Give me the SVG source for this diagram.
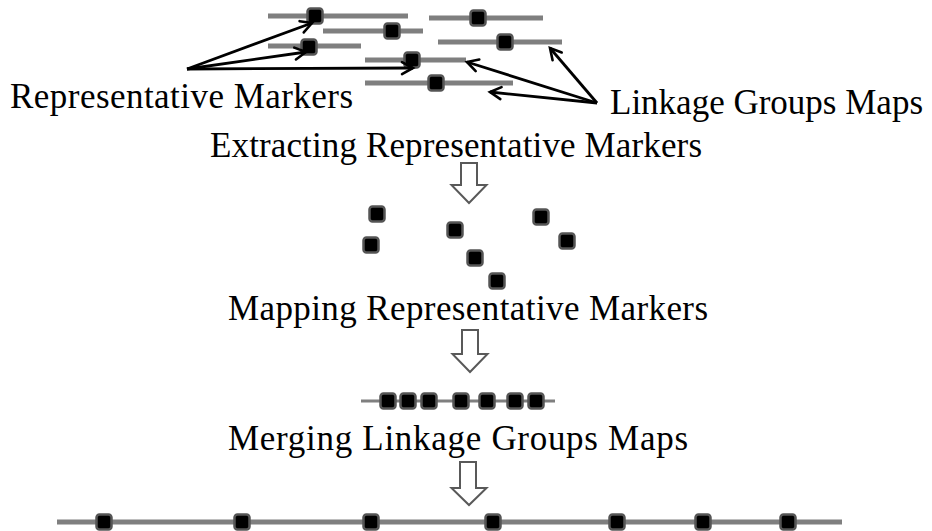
<svg xmlns="http://www.w3.org/2000/svg" width="932" height="531" viewBox="0 0 932 531">
<style>
.bar{stroke:#7f7f7f;stroke-width:5;fill:none}
.thin{stroke:#7f7f7f;stroke-width:2.8;fill:none}
.mk{fill:#000;stroke:#555;stroke-width:2.5}
.lbl{font-family:"Liberation Serif","Times New Roman",serif;font-size:35px;fill:#000}
.blk{fill:#fff;stroke:#595959;stroke-width:2}
.con{stroke:#000;stroke-width:2.8;fill:none;marker-end:url(#ah)}
</style>
<defs>
<marker id="ah" markerUnits="userSpaceOnUse" markerWidth="16" markerHeight="16" viewBox="0 0 16 16" refX="13" refY="8" orient="auto">
<path d="M2,2 L13,8 L2,14" fill="none" stroke="#000" stroke-width="2.6" stroke-linecap="round" stroke-linejoin="miter"/>
</marker>
<rect id="m" x="-7.5" y="-7.5" width="15" height="15" rx="3" class="mk"/>
</defs>
<rect width="932" height="531" fill="#fff"/>

<g id="lg1"><line class="bar" x1="268" y1="16" x2="408" y2="16"/><use href="#m" x="315" y="16"/></g>
<g id="lg2"><line class="bar" x1="323" y1="31" x2="423" y2="31"/><use href="#m" x="392" y="31"/></g>
<g id="lg3"><line class="bar" x1="268" y1="46" x2="361" y2="46"/><use href="#m" x="309" y="47"/></g>
<g id="lg4"><line class="bar" x1="365" y1="60" x2="466" y2="60"/><use href="#m" x="412" y="60"/></g>
<g id="lg5"><line class="bar" x1="365" y1="83" x2="513" y2="83"/><use href="#m" x="436" y="83"/></g>
<g id="lg6"><line class="bar" x1="429" y1="18" x2="543" y2="18"/><use href="#m" x="478" y="18"/></g>
<g id="lg7"><line class="bar" x1="438" y1="42" x2="562" y2="42"/><use href="#m" x="505" y="42"/></g>

<g id="label-rep"><text class="lbl" x="10" y="108" textLength="343" lengthAdjust="spacing">Representative Markers</text></g>
<g id="label-lgm"><text class="lbl" x="610" y="114" textLength="313" lengthAdjust="spacing">Linkage Groups Maps</text></g>

<g id="connectors">
<line class="con" x1="187" y1="69" x2="312" y2="23"/>
<line class="con" x1="187" y1="69" x2="306" y2="52"/>
<line class="con" x1="187" y1="69" x2="413" y2="68"/>
<line class="con" x1="597" y1="103" x2="550" y2="48"/>
<line class="con" x1="597" y1="103" x2="467" y2="62"/>
<line class="con" x1="597" y1="103" x2="490" y2="92"/>
</g>

<g id="step-extract"><text class="lbl" x="210" y="157" textLength="492" lengthAdjust="spacing">Extracting Representative Markers</text></g>
<g id="arrow1"><path class="blk" d="M461,163 H477 V185 H486.5 L469,203 L451.5,185 H461 Z"/></g>

<g id="scattered">
<use href="#m" x="377" y="214"/>
<use href="#m" x="371" y="245"/>
<use href="#m" x="455" y="230"/>
<use href="#m" x="475" y="258"/>
<use href="#m" x="497" y="281"/>
<use href="#m" x="541" y="217"/>
<use href="#m" x="567" y="241"/>
</g>

<g id="step-map"><text class="lbl" x="228" y="320" textLength="480" lengthAdjust="spacing">Mapping Representative Markers</text></g>
<g id="arrow2"><path class="blk" d="M462,330 H478 V354 H487.5 L470,372 L452.5,354 H462 Z"/></g>

<g id="merged">
<line class="thin" x1="361" y1="401" x2="555" y2="401"/>
<use href="#m" x="388" y="401"/>
<use href="#m" x="408" y="401"/>
<use href="#m" x="429" y="401"/>
<use href="#m" x="461" y="401"/>
<use href="#m" x="487" y="401"/>
<use href="#m" x="515" y="401"/>
<use href="#m" x="536" y="401"/>
</g>

<g id="step-merge"><text class="lbl" x="228" y="450" textLength="460" lengthAdjust="spacing">Merging Linkage Groups Maps</text></g>
<g id="arrow3"><path class="blk" d="M460,462 H476 V488 H486.5 L469,505 L451.5,488 H460 Z"/></g>

<g id="final">
<line class="bar" x1="57" y1="522" x2="842" y2="522"/>
<use href="#m" x="104" y="522"/>
<use href="#m" x="242" y="522"/>
<use href="#m" x="371" y="522"/>
<use href="#m" x="493" y="522"/>
<use href="#m" x="617" y="522"/>
<use href="#m" x="703" y="522"/>
<use href="#m" x="788" y="522"/>
</g>
</svg>
